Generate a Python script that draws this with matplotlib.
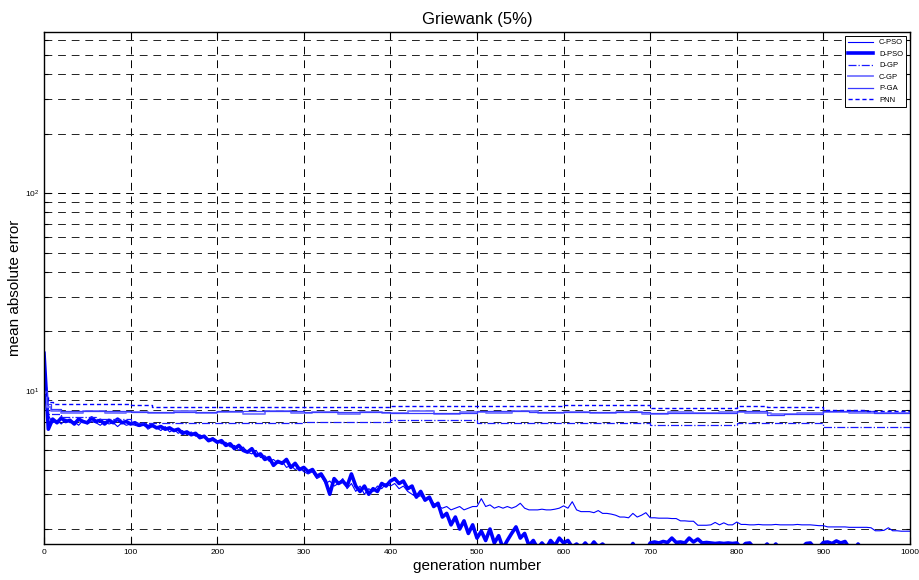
import numpy as np
import matplotlib
matplotlib.use('Agg')
import matplotlib.pyplot as plt
from matplotlib.ticker import LogLocator, NullFormatter, MultipleLocator

# PSO curves sampled every 5 generations
gen_pso = np.arange(0, 1001, 5)

d_pso = [15.5, 6.4, 7.2, 6.9, 7.3, 7.0, 7.1, 6.8, 7.2, 7.0, 6.9, 7.3, 7.0, 7.1, 6.8, 7.1, 6.9, 7.2, 6.9, 7.0, 6.8,
         6.9, 6.7, 6.8, 6.6, 6.7, 6.5, 6.6, 6.4, 6.5, 6.3, 6.4, 6.1, 6.2, 6.0, 6.1, 5.8, 5.9, 5.6, 5.7, 5.5,
         5.6, 5.3, 5.4, 5.1, 5.3, 5.0, 4.9, 5.1, 4.7, 4.8, 4.5, 4.6, 4.2, 4.4, 4.3, 4.5, 4.1, 4.3, 4.0, 4.1,
         3.9, 4.0, 3.7, 3.8, 3.5, 3.0, 3.6, 3.4, 3.5, 3.3, 3.8, 3.3, 3.1, 3.3, 3.0, 3.2, 3.1, 3.4, 3.3, 3.5,
         3.6, 3.4, 3.5, 3.2, 3.3, 2.9, 3.1, 2.8, 2.9, 2.6, 2.7, 2.3, 2.4, 2.1, 2.3, 2.0, 2.2, 1.9, 2.1, 1.8,
         1.95, 1.75, 2.0, 1.7, 1.85, 1.6, 1.75, 1.9, 2.05, 1.8, 1.9, 1.65, 1.75, 1.6, 1.7, 1.6, 1.75, 1.65, 1.8, 1.7,
         1.75, 1.62, 1.68, 1.6, 1.7, 1.6, 1.72, 1.62, 1.68, 1.6, 1.58, 1.6, 1.55, 1.6, 1.55, 1.69, 1.55, 1.6, 1.55, 1.7,
         1.72, 1.7, 1.73, 1.71, 1.8, 1.71, 1.72, 1.7, 1.8, 1.72, 1.78, 1.7, 1.71, 1.7, 1.69, 1.7, 1.69, 1.7, 1.69, 1.7,
         1.6, 1.69, 1.7, 1.6, 1.55, 1.6, 1.68, 1.58, 1.68, 1.58, 1.55, 1.55, 1.58, 1.55, 1.6, 1.69, 1.7, 1.6, 1.62, 1.71,
         1.72, 1.69, 1.74, 1.7, 1.73, 1.6, 1.55, 1.68, 1.58, 1.55, 1.5, 1.52, 1.5, 1.48, 1.5, 1.48, 1.47, 1.48, 1.46, 1.45]

c_pso = [12.0, 7.5, 6.9, 7.1, 6.8, 7.2, 6.9, 7.0, 6.7, 7.1, 6.8, 7.0, 6.9, 6.7, 7.0, 6.8, 6.9, 6.6, 6.9, 6.7, 6.8,
         6.7, 6.6, 6.8, 6.4, 6.6, 6.5, 6.3, 6.6, 6.2, 6.4, 6.1, 6.3, 6.0, 6.2, 5.9, 6.0, 5.8, 5.7, 5.8, 5.6,
         5.4, 5.5, 5.2, 5.3, 5.0, 5.2, 4.9, 4.8, 5.0, 4.6, 4.7, 4.4, 4.5, 4.3, 4.4, 4.1, 4.2, 4.0, 4.1, 3.9,
         3.8, 3.9, 3.6, 3.7, 3.4, 3.5, 3.3, 3.4, 3.6, 3.2, 3.4, 3.1, 3.3, 3.0, 3.2, 3.1, 3.3, 3.2, 3.4, 3.3,
         3.4, 3.2, 3.3, 3.1, 3.0, 2.9, 2.95, 2.8, 2.85, 2.7, 2.6, 2.55, 2.6, 2.5, 2.55, 2.6, 2.5, 2.55, 2.6, 2.6,
         2.85, 2.6, 2.65, 2.55, 2.6, 2.55, 2.6, 2.55, 2.6, 2.7, 2.55, 2.5, 2.5, 2.5, 2.52, 2.5, 2.5, 2.52, 2.55, 2.62,
         2.55, 2.75, 2.5, 2.45, 2.45, 2.45, 2.42, 2.48, 2.4, 2.4, 2.38, 2.35, 2.3, 2.3, 2.28, 2.4, 2.3, 2.35, 2.42, 2.28,
         2.28, 2.27, 2.27, 2.27, 2.26, 2.26, 2.2, 2.2, 2.19, 2.19, 2.09, 2.09, 2.09, 2.1, 2.16, 2.1, 2.15, 2.1, 2.1, 2.17,
         2.11, 2.11, 2.1, 2.1, 2.11, 2.1, 2.1, 2.1, 2.11, 2.1, 2.1, 2.1, 2.1, 2.11, 2.1, 2.1, 2.1, 2.09, 2.08, 2.08,
         2.05, 2.05, 2.05, 2.05, 2.05, 2.04, 2.04, 2.04, 2.04, 2.04, 2.03, 1.96, 1.96, 1.97, 2.03, 1.96, 1.96, 1.95, 1.95, 1.95]

# step-like curves: generation where the value changes, and the value
dgp_gen = [0, 2, 5, 20, 60, 100, 300, 400, 500, 700, 800, 900, 1000]
dgp_val = [9.5, 8.2, 7.6, 7.4, 7.2, 6.92, 6.97, 7.1, 6.85, 6.7, 6.85, 6.6, 6.6]

cgp_gen = [0, 3, 8, 20, 45, 70, 95, 120, 150, 175, 200, 230, 255, 285, 310, 340, 365, 390, 420,
           450, 480, 510, 540, 570, 600, 630, 660, 690, 720, 750, 780, 810, 840, 870, 900, 930, 960, 1000]
cgp_val = [9.8, 8.3, 7.95, 7.75, 7.9, 7.7, 7.85, 7.72, 7.9, 7.7, 7.82, 7.68, 7.88, 7.7, 7.8, 7.66, 7.85, 7.72, 7.9,
           7.68, 7.8, 7.7, 7.92, 7.75, 7.85, 7.7, 7.82, 7.68, 7.78, 7.7, 7.86, 7.72, 7.6, 7.7, 7.82, 7.72, 7.75, 7.75]

pga_gen = [0, 3, 8, 20, 100, 200, 300, 400, 500, 560, 700, 800, 835, 855, 900, 958, 1000]
pga_val = [10.0, 8.6, 8.1, 7.95, 7.85, 7.9, 7.8, 7.75, 7.95, 7.8, 7.75, 7.92, 7.55, 7.65, 7.9, 7.75, 7.75]

pnn_gen = [0, 2, 5, 10, 100, 125, 200, 400, 600, 700, 800, 835, 900, 950, 1000]
pnn_val = [10.5, 9.3, 8.8, 8.55, 8.45, 8.3, 8.25, 8.37, 8.5, 8.2, 8.4, 8.3, 8.05, 7.95, 7.95]

plt.rcParams['font.family'] = ['Liberation Sans', 'DejaVu Sans']
narrow = ['Liberation Sans Narrow', 'Liberation Sans', 'DejaVu Sans']

fig = plt.figure(figsize=(9.2, 5.8), dpi=100)
ax = fig.add_axes([44 / 920, 1 - 544 / 580, 866 / 920, 512 / 580])

ax.plot(gen_pso, c_pso, color='#0000ff', lw=0.8, label='C-PSO')
ax.plot(gen_pso, d_pso, color='#0000ff', lw=2.6, label='D-PSO')
ax.plot(dgp_gen, dgp_val, color='#1a1aff', lw=0.9, ls='-.', drawstyle='steps-post', label='D-GP')
ax.plot(cgp_gen, cgp_val, color='#7373ff', lw=1.3, drawstyle='steps-post', label='C-GP')
ax.plot(pga_gen, pga_val, color='#3a3aff', lw=0.9, drawstyle='steps-post', label='P-GA')
ax.plot(pnn_gen, pnn_val, color='#0000ff', lw=1.0, ls=(0, (3, 2)), drawstyle='steps-post', label='PNN')

ax.set_yscale('log')
ax.set_xlim(0, 1000)
ax.set_ylim(1.68, 655)
ax.xaxis.set_major_locator(MultipleLocator(100))
ax.yaxis.set_major_locator(LogLocator(base=10))
ax.yaxis.set_minor_locator(LogLocator(base=10, subs=np.arange(2, 10)))
ax.yaxis.set_minor_formatter(NullFormatter())

ax.set_axisbelow(True)
ax.grid(True, which='major', axis='both', color='k', lw=0.7, ls=(0, (8, 6)))
ax.grid(True, which='minor', axis='y', color='#222222', lw=0.7, ls=(0, (8, 6)))

ax.tick_params(which='both', direction='in', top=True, right=True, width=0.8)
ax.tick_params(which='major', length=5, labelsize=6)
ax.tick_params(which='minor', length=3)
for lab in ax.get_xticklabels():
    lab.set_family(narrow)
for s in ax.spines.values():
    s.set_linewidth(1.0)

ax.set_title('Griewank (5%)', fontsize=12, pad=6)
ax.set_xlabel('generation number', fontsize=11, labelpad=2, family=narrow)
ax.set_ylabel('mean absolute error', fontsize=11)
ax.yaxis.set_label_coords(-22 / 866, 0.5)

leg = ax.legend(loc='upper right', fontsize=5.5, fancybox=False, edgecolor='k',
                framealpha=1, handlelength=3.2, labelspacing=0.55, borderaxespad=0.5)
leg.get_frame().set_linewidth(0.7)

fig.savefig('out.png', dpi=100)
